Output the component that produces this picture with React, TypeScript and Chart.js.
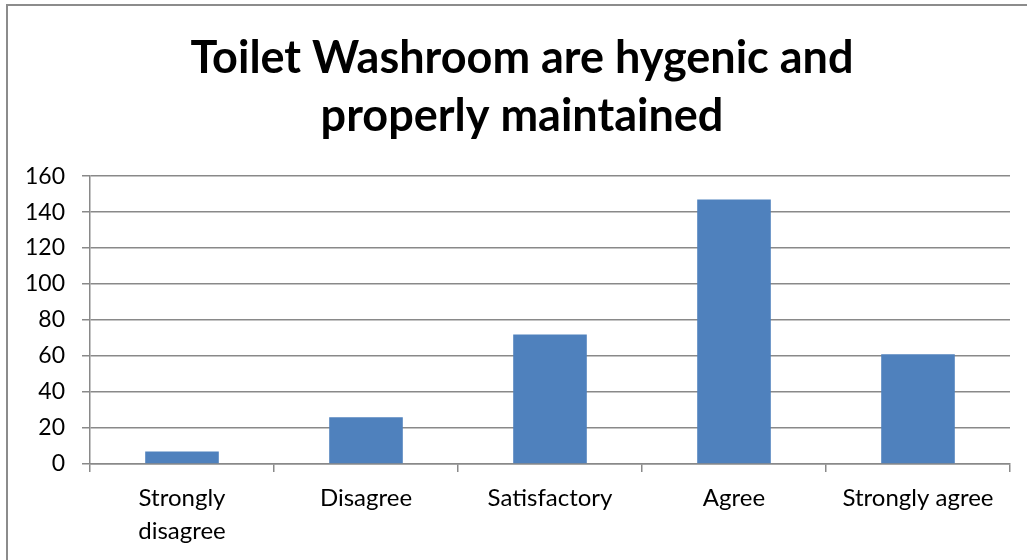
import React, { useEffect, useRef } from "react";
import { Chart, registerables } from "chart.js";

Chart.register(...registerables);

const categories: (string | string[])[] = [["Strongly", "disagree"], "Disagree", "Satisfactory", "Agree", "Strongly agree"];
const values: number[] = [7, 26, 72, 147, 61];
const titleLines: string[] = ["Toilet Washroom are hygenic and", "properly maintained"];
const yMin = 0;
const yMax = 160;
const yStep = 20;

const FONT = "Lato, 'Open Sans', sans-serif";
const GRID = "#898989";

const framePlugin = {
  id: "frame",
  beforeDraw(chart: any) {
    const ctx = chart.ctx;
    ctx.save();
    ctx.fillStyle = "#ffffff";
    ctx.fillRect(0, 0, chart.width, chart.height);
    ctx.strokeStyle = "#8c8c8c";
    ctx.lineWidth = 2;
    ctx.strokeRect(7, 5, chart.width + 50, chart.height + 50);
    ctx.restore();
  },
};

export default function App() {
  const ref = useRef<HTMLCanvasElement | null>(null);
  useEffect(() => {
    if (!ref.current) return;
    const chart = new Chart(ref.current, {
      type: "bar",
      data: {
        labels: categories,
        datasets: [
          {
            data: values,
            backgroundColor: "#4F81BD",
            borderWidth: 0,
            barPercentage: 0.4,
            categoryPercentage: 1,
            yAxisID: "y",
          },
        ],
      },
      options: {
        responsive: false,
        animation: false,
        layout: { padding: { left: 17, right: 0, top: 0, bottom: 2 } },
        plugins: {
          legend: { display: false },
          tooltip: { enabled: false },
          title: {
            display: true,
            text: titleLines,
            color: "#000",
            font: { family: FONT, size: 45, weight: "bold", lineHeight: 1.29 },
            padding: { top: 29, bottom: 31 },
          },
        },
        scales: {
          x: {
            grid: {
              display: true,
              drawOnChartArea: false,
              drawTicks: true,
              tickLength: 8,
              color: GRID,
              lineWidth: 1.5,
              offset: true,
            },
            border: { display: true, color: GRID, width: 1.5 },
            ticks: {
              color: "#000",
              font: { family: FONT, size: 24, lineHeight: 1.375 },
              padding: 10,
              maxRotation: 0,
              autoSkip: false,
            },
          },
          y: {
            min: yMin,
            max: yMax,
            afterFit: (scale: any) => {
              scale.width = 73;
            },
            grid: {
              color: GRID,
              lineWidth: 1.5,
              tickLength: 8,
              drawTicks: true,
            },
            border: { display: true, color: GRID, width: 1.5 },
            ticks: {
              stepSize: yStep,
              color: "#000",
              font: { family: FONT, size: 23 },
              padding: 17,
            },
          },
          spacer: {
            type: "linear",
            position: "right",
            display: true,
            min: yMin,
            max: yMax,
            afterFit: (scale: any) => {
              scale.width = 17;
            },
            grid: { display: false, drawTicks: false },
            border: { display: false },
            ticks: { display: false },
          },
        },
      },
      plugins: [framePlugin],
    });
    return () => chart.destroy();
  }, []);
  return (
    <div style={{ position: "absolute", left: 0, top: 0, width: 1027, height: 560 }}>
      <canvas ref={ref} width={1027} height={560} style={{ display: "block" }} />
    </div>
  );
}
